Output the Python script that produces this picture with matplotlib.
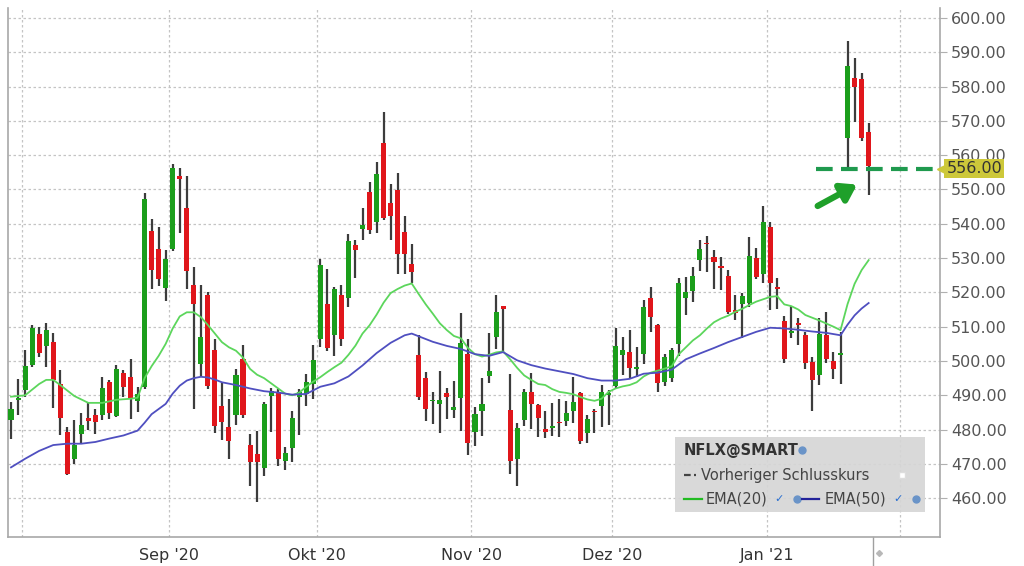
import numpy as np
import matplotlib
matplotlib.use("Agg")
import matplotlib.pyplot as plt
from matplotlib.patches import Rectangle

# NFLX daily candles, 30 Jul 2020 - 25 Jan 2021
opens = [482.7, 488.7, 491.5, 498.8, 507.9, 504.4, 505.4, 493.4, 479.3, 471.5,
         478.6, 483.3, 484.2, 484.2, 493.9, 484.0, 496.6, 495.2, 488.4, 492.5,
         537.9, 532.6, 521.4, 532.6, 553.8, 544.7, 522.1, 499.0, 519.2, 503.3,
         486.8, 480.7, 484.2, 500.6, 475.4, 472.9, 468.7, 489.9, 490.9, 470.8,
         474.6, 489.5, 490.4, 493.4, 506.5, 516.7, 507.5, 519.2, 518.4, 533.8,
         538.6, 549.2, 540.4, 563.5, 546.2, 549.8, 537.5, 528.2, 501.8, 495.0,
         488.2, 487.5, 490.8, 485.8, 489.1, 502.0, 479.4, 485.5, 495.5, 506.9,
         515.9, 485.8, 471.3, 482.8, 491.0, 487.1, 480.1, 480.5, 482.2, 482.5,
         485.4, 490.6, 479.1, 485.5, 486.9, 490.1, 492.8, 501.7, 502.7, 497.8,
         501.9, 518.3, 510.5, 494.0, 495.0, 505.0, 518.3, 520.3, 529.3, 534.4,
         530.4, 527.8, 524.8, 515.0, 516.6, 517.0, 529.9, 525.5, 539.0, 521.5,
         511.7, 508.2, 511.1, 507.5, 499.7, 495.8, 507.5, 499.9, 501.7, 565.0,
         582.5, 582.2, 566.9]
highs = [488.1, 494.9, 503.2, 510.5, 510.0, 511.0, 508.2, 497.3, 480.8, 482.7,
         484.7, 488.1, 486.1, 495.4, 494.6, 498.8, 497.3, 500.7, 492.5, 549.1,
         541.3, 539.2, 532.4, 557.4, 556.4, 554.0, 527.5, 522.3, 520.2, 506.3,
         493.6, 489.0, 497.7, 504.8, 478.8, 479.7, 488.0, 492.1, 491.9, 474.9,
         485.3, 491.9, 496.3, 504.8, 529.7, 526.8, 521.6, 522.1, 536.9, 535.2,
         544.7, 552.3, 557.9, 572.7, 551.5, 554.7, 542.3, 534.2, 507.5, 496.8,
         491.0, 497.2, 492.0, 494.2, 514.1, 506.5, 486.7, 495.0, 508.3, 519.2,
         516.1, 496.1, 482.0, 491.8, 496.4, 487.4, 485.4, 487.7, 489.0, 488.4,
         495.2, 491.1, 484.2, 485.9, 493.0, 491.5, 509.5, 506.9, 509.0, 504.2,
         517.9, 521.5, 510.8, 502.1, 503.7, 524.2, 524.6, 527.3, 535.3, 536.4,
         532.5, 530.4, 526.5, 519.2, 519.7, 536.2, 532.8, 545.2, 540.6, 524.1,
         513.1, 516.0, 512.4, 508.5, 501.2, 512.4, 514.3, 502.7, 508.5, 593.2,
         588.3, 584.0, 569.4]
lows = [477.4, 484.2, 489.6, 498.3, 501.2, 498.3, 486.4, 478.4, 466.7, 470.1,
        475.9, 479.8, 478.8, 482.7, 483.2, 483.7, 489.6, 483.2, 485.2, 491.7,
        521.0, 521.8, 517.5, 532.1, 537.4, 521.1, 486.0, 495.6, 491.8, 479.0,
        477.0, 471.4, 481.4, 483.4, 463.7, 459.0, 466.6, 479.3, 469.5, 468.3,
        470.5, 478.3, 487.0, 489.0, 504.1, 502.8, 501.6, 504.4, 515.8, 524.2,
        535.2, 536.9, 537.2, 541.1, 535.2, 525.5, 525.5, 522.6, 488.5, 482.4,
        481.5, 479.1, 483.0, 483.3, 479.5, 472.5, 475.2, 478.2, 493.7, 503.4,
        502.7, 467.2, 463.5, 481.0, 480.3, 477.9, 477.6, 478.1, 477.9, 481.0,
        482.0, 475.8, 476.0, 479.1, 480.8, 481.3, 492.0, 495.9, 494.9, 495.2,
        499.2, 508.6, 491.0, 492.7, 494.0, 501.5, 513.4, 517.2, 526.1, 525.9,
        521.0, 520.7, 513.7, 511.9, 506.8, 515.6, 523.8, 522.6, 514.8, 515.3,
        499.3, 506.6, 504.6, 497.8, 485.4, 492.9, 499.3, 494.9, 493.4, 556.2,
        569.8, 564.0, 548.4]
closes = [485.9, 489.2, 498.5, 509.5, 502.4, 509.0, 494.6, 483.5, 467.2, 475.4,
          481.3, 482.6, 482.3, 492.0, 484.7, 497.8, 492.3, 489.1, 490.5, 547.2,
          526.5, 524.0, 529.6, 556.4, 553.0, 526.2, 516.5, 507.0, 492.6, 481.0,
          482.1, 476.6, 496.0, 484.2, 470.7, 470.5, 487.5, 491.4, 471.3, 473.2,
          483.3, 490.9, 493.9, 500.2, 527.9, 503.8, 520.9, 506.5, 535.0, 532.3,
          539.6, 538.2, 554.4, 541.8, 542.3, 531.3, 531.3, 526.0, 489.5, 485.9,
          488.6, 488.6, 489.4, 486.6, 505.2, 476.2, 484.5, 487.6, 497.1, 514.2,
          515.1, 470.8, 480.6, 491.0, 487.4, 483.5, 479.4, 481.1, 481.8, 484.8,
          488.0, 476.7, 483.0, 485.0, 491.0, 490.6, 504.5, 503.1, 497.9, 498.3,
          515.8, 512.8, 493.7, 501.3, 503.2, 522.7, 520.0, 524.8, 532.6, 534.0,
          529.0, 527.2, 514.3, 513.9, 519.0, 530.6, 524.6, 540.6, 522.8, 520.9,
          500.7, 508.8, 510.4, 499.3, 494.4, 508.0, 500.7, 497.8, 502.0, 586.1,
          579.9, 565.0, 556.9]

# EMA lines, values read at these candle numbers
ema20_idx = [0, 2, 4, 5, 6, 7, 9, 11, 13, 15, 17, 18, 19, 20, 21, 22, 23, 24, 25, 26,
             27, 28, 29, 30, 31, 32, 33, 34, 35, 36, 37, 38, 39, 40, 41, 42, 43, 44, 45, 46,
             47, 48, 49, 50, 51, 52, 53, 54, 55, 56, 57, 58, 59, 60, 61, 62, 63, 64, 65, 66,
             67, 68, 69, 70, 71, 72, 73, 74, 75, 76, 77, 78, 79, 80, 81, 82, 83, 84, 85, 86,
             87, 88, 89, 90, 91, 92, 93, 94, 95, 96, 97, 98, 99, 100, 101, 102, 103, 104, 105, 106,
             107, 108, 109, 110, 111, 112, 113, 114, 115, 116, 117, 118, 119, 120, 121, 122]
ema20 = [489.6, 490.0, 493.3, 494.5, 494.5, 493.0, 489.8, 487.8, 487.8, 488.7, 489.0, 489.3, 495.0, 498.5, 501.5, 505.0, 509.5, 513.0, 514.2, 514.2,
         512.8, 510.5, 508.0, 505.5, 504.0, 503.0, 501.0, 497.7, 496.0, 495.0, 493.5, 492.0, 490.5, 490.0, 490.8, 492.5, 494.0, 495.3, 496.8, 498.2,
         499.5, 501.8, 504.5, 508.0, 510.4, 513.5, 517.0, 519.8, 521.0, 522.0, 522.6, 519.5, 516.5, 513.8, 511.0, 509.0, 507.3, 506.6, 503.8, 502.0,
         501.3, 501.8, 502.5, 502.8, 500.5, 498.0, 495.8, 494.5, 493.3, 493.0, 491.8, 491.0, 490.7, 490.3, 489.5, 488.8, 488.4, 489.0, 491.0, 492.0,
         492.6, 493.0, 493.8, 495.5, 496.6, 497.2, 497.8, 498.5, 502.0, 504.0, 506.0, 507.5, 509.5, 511.3, 512.4, 513.2, 514.3, 515.2, 516.3, 517.3,
         518.0, 518.7, 518.9, 516.5, 516.0, 515.0, 513.4, 512.6, 511.8, 510.9, 510.0, 509.0, 516.6, 522.5, 526.5, 529.4]
ema50_idx = [0, 2, 4, 6, 8, 10, 12, 14, 16, 18, 19, 20, 21, 22, 23, 24, 25, 26, 27, 28,
             29, 30, 31, 32, 34, 36, 38, 40, 42, 44, 46, 48, 50, 52, 54, 56, 57, 58, 60, 62,
             64, 66, 68, 70, 72, 74, 76, 78, 80, 82, 84, 86, 88, 90, 92, 94, 96, 98, 100, 102,
             104, 106, 108, 110, 112, 114, 116, 118, 119, 120, 121, 122]
ema50 = [469.0, 471.5, 473.8, 475.5, 475.9, 475.9, 476.4, 477.4, 478.3, 479.7, 482.0, 484.5, 486.0, 487.5, 490.5, 492.8, 494.3, 495.0, 495.4, 495.2,
         494.6, 493.8, 493.4, 493.0, 492.0, 491.2, 490.8, 490.2, 490.4, 492.5, 493.5, 495.5, 498.7, 502.3, 505.3, 507.5, 508.0, 507.2, 505.6, 504.4,
         503.5, 502.0, 501.5, 502.6, 500.2, 498.8, 497.8, 497.0, 496.2, 495.0, 494.3, 494.3, 494.8, 496.3, 496.6, 497.5, 500.5, 502.2, 503.8, 505.5,
         507.0, 508.5, 509.7, 509.5, 509.1, 508.6, 508.2, 507.5, 510.6, 513.3, 515.3, 516.9]

# first trading day of each month (candle number) and its label
month_start = [2, 23, 44, 66, 86, 108, 127]
month_labels = ["", "Sep '20", "Okt '20", "Nov '20", "Dez '20", "Jan '21", ""]

prev_close = 556.0
yticks = list(range(460, 601, 10))

GREEN = "#1b9e1b"
RED = "#e0161b"
WICK = "#3c3c3c"

fig = plt.figure(figsize=(10.24, 5.66), dpi=100)
ax = fig.add_axes([8 / 1024, 29 / 566, 932 / 1024, 529 / 566])

x = np.arange(len(closes))
o = np.array(opens)
c = np.array(closes)
up = c >= o
body_lo = np.minimum(o, c)
body_h = np.maximum(np.abs(c - o), 0.5)

ax.vlines(x, lows, highs, color=WICK, lw=1.6, zorder=3)
ax.bar(x, body_h, bottom=body_lo, width=0.72,
       color=np.where(up, GREEN, RED), edgecolor="none", zorder=4)

ax.plot(ema20_idx, ema20, color="#5cd65c", lw=1.3, zorder=5)
ax.plot(ema50_idx, ema50, color="#4f4fc0", lw=1.3, zorder=5)

# grid
for v in yticks:
    ax.axhline(v, color="#c4c4c4", lw=0.9, ls=(0, (2, 2)), zorder=1)
grid_x = [m - 0.5 for m in month_start]
for gx in grid_x:
    ax.axvline(gx, color="#c4c4c4", lw=0.9, ls=(0, (2, 2)), zorder=1)

ax.set_xlim(-0.43, 132.15)
ax.set_ylim(448.7, 602.9)

ax.yaxis.tick_right()
ax.set_yticks(yticks)
ax.set_yticklabels([f"{v:.2f}" for v in yticks])
ax.tick_params(axis="y", length=5, color="#b0b0b0", labelsize=11.5,
               labelcolor="#555555", pad=3)
ax.set_xticks(grid_x)
ax.set_xticklabels(month_labels)
ax.tick_params(axis="x", length=0, labelsize=11.5, labelcolor="#333333", pad=8)

for s in ["left", "right", "bottom"]:
    ax.spines[s].set_color("#a8a8a8")
    ax.spines[s].set_linewidth(1.2)
ax.spines["top"].set_visible(False)

# separator at the end of data
n = len(closes)
ax.plot([n - 0.4, n - 0.4], [0, -0.06], transform=ax.get_xaxis_transform(),
        color="#a0a0a0", lw=1, clip_on=False)
ax.plot([n + 0.5], [-0.03], marker="D", ms=3, color="#b8b8b8",
        transform=ax.get_xaxis_transform(), clip_on=False)

# previous close dashed line, price tag and arrow
ax.plot([n - 8.5, 133], [prev_close, prev_close], color="#1f9a4e", lw=3,
        ls=(0, (4, 2)), zorder=6, clip_on=False)
ax.plot([ax.get_xlim()[1] + 0.3], [prev_close], marker="<", ms=7, color="#cdc83a",
        clip_on=False, zorder=7)
ax.text(ax.get_xlim()[1] + 0.9, prev_close, f"{prev_close:.2f}", fontsize=11.5,
        color="#333333", va="center", ha="left", zorder=8, clip_on=False,
        bbox=dict(boxstyle="square,pad=0.12", fc="#cdc83a", ec="none"))
ax.annotate("", xy=(n - 2.3, prev_close - 4.2), xytext=(n - 8.6, prev_close - 11.2),
            arrowprops=dict(arrowstyle="-|>,head_length=0.9,head_width=0.6",
                            color="#1fa02a", lw=4.5), zorder=7)

# legend box
ax.add_patch(Rectangle((0.7157, 0.047), 0.268, 0.142, transform=ax.transAxes,
                       facecolor="#d6d6d6", edgecolor="none", alpha=0.92, zorder=9))
ax.text(0.725, 0.164, "NFLX@SMART", transform=ax.transAxes, fontsize=10.5,
        fontweight="bold", color="#333333", va="center", zorder=10)
ax.plot([0.852], [0.164], marker="o", ms=5, color="#6a94c8", transform=ax.transAxes, zorder=10)
ax.plot([0.725, 0.738], [0.117, 0.117], transform=ax.transAxes, color="#444444",
        lw=1.6, ls=(0, (3, 1.5)), zorder=10)
ax.text(0.744, 0.117, "Vorheriger Schlusskurs", transform=ax.transAxes, fontsize=10.5,
        color="#444444", va="center", zorder=10)
ax.plot([0.959], [0.117], marker="s", ms=5, color="white", mec="#dddddd",
        transform=ax.transAxes, zorder=10)
ax.plot([0.725, 0.745], [0.072, 0.072], transform=ax.transAxes, color="#22bb22",
        lw=1.6, zorder=10)
ax.text(0.749, 0.072, "EMA(20)", transform=ax.transAxes, fontsize=10.5,
        color="#444444", va="center", zorder=10)
ax.text(0.822, 0.072, "\u2713", transform=ax.transAxes, fontsize=8,
        color="#2a6fd0", va="center", zorder=10)
ax.plot([0.847], [0.072], marker="o", ms=5, color="#6a94c8", transform=ax.transAxes, zorder=10)
ax.plot([0.852, 0.870], [0.072, 0.072], transform=ax.transAxes, color="#22229a",
        lw=1.6, zorder=10)
ax.text(0.876, 0.072, "EMA(50)", transform=ax.transAxes, fontsize=10.5,
        color="#444444", va="center", zorder=10)
ax.text(0.950, 0.072, "\u2713", transform=ax.transAxes, fontsize=8,
        color="#2a6fd0", va="center", zorder=10)
ax.plot([0.974], [0.072], marker="o", ms=5, color="#6a94c8", transform=ax.transAxes, zorder=10)

fig.savefig("out.png", dpi=100)
